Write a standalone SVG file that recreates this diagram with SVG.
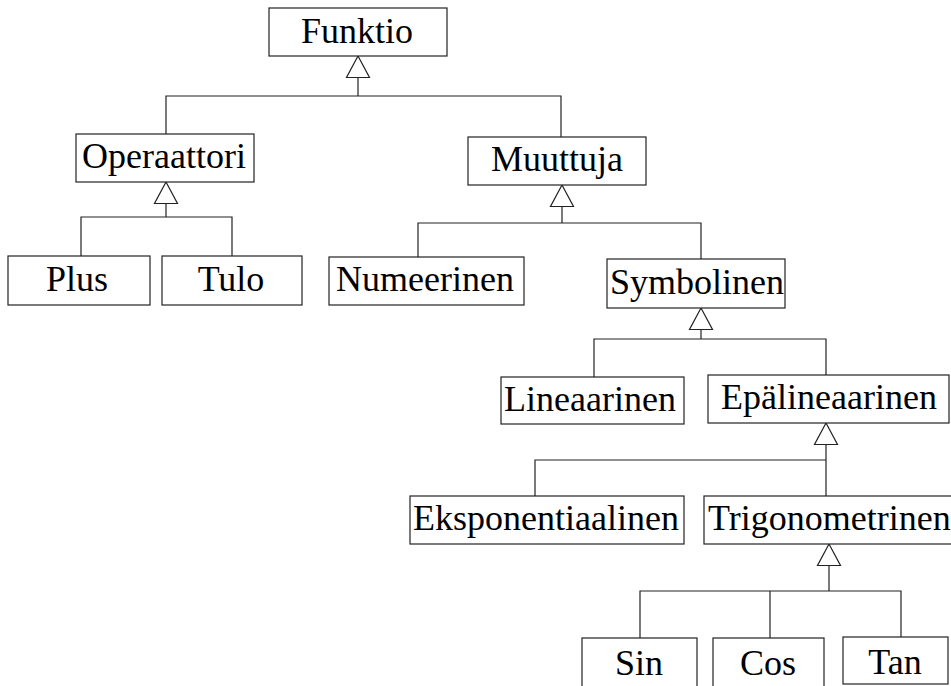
<svg xmlns="http://www.w3.org/2000/svg" xmlns:xlink="http://www.w3.org/1999/xlink" width="951" height="686" viewBox="0 0 951 686">
  <style>
    .box { fill: #ffffff; stroke: #222222; stroke-width: 1.2; }
    .lbl { font-family: "Liberation Serif", "Times New Roman", serif; font-size: 36px; fill: #000000; text-anchor: middle; }
    .wire { fill: none; stroke: #222222; stroke-width: 1.2; }
    .head { fill: #ffffff; stroke: #222222; stroke-width: 1.2; }
  </style>
  <defs>
    <!-- hollow generalisation triangle, apex at origin -->
    <path id="gen" class="head" d="M0,0 L11.5,21.5 L-11.5,21.5 Z"/>
  </defs>
  <rect width="951" height="686" fill="#ffffff"/>

  <g id="connectors">
    <!-- Funktio -->
    <path class="wire" d="M358,77 V96 M166,134 V96 H561 V137"/>
    <use xlink:href="#gen" x="358" y="56"/>
    <!-- Operaattori -->
    <path class="wire" d="M166,203 V217 M81,256 V217 H232 V256"/>
    <use xlink:href="#gen" x="166" y="182"/>
    <!-- Muuttuja -->
    <path class="wire" d="M562,206 V223 M418,257 V223 H701 V259"/>
    <use xlink:href="#gen" x="562" y="185"/>
    <!-- Symbolinen -->
    <path class="wire" d="M701,329 V339 M594,377 V339 H826 V375"/>
    <use xlink:href="#gen" x="701" y="308"/>
    <!-- Epälineaarinen -->
    <path class="wire" d="M826,444 V496 M535,496 V460 H826"/>
    <use xlink:href="#gen" x="826" y="423"/>
    <!-- Trigonometrinen -->
    <path class="wire" d="M829,565 V591 M640,638 V591 H901 V637 M770,591 V638"/>
    <use xlink:href="#gen" x="829" y="544"/>
  </g>

  <g id="funktio">
    <rect class="box" x="269" y="8" width="178" height="48"/>
    <text class="lbl" x="357" y="43">Funktio</text>
  </g>
  <g id="operaattori">
    <rect class="box" x="76" y="134" width="178" height="48"/>
    <text class="lbl" x="164" y="168">Operaattori</text>
  </g>
  <g id="muuttuja">
    <rect class="box" x="468" y="137" width="178" height="48"/>
    <text class="lbl" x="557" y="171">Muuttuja</text>
  </g>
  <g id="plus">
    <rect class="box" x="8" y="256" width="142" height="49"/>
    <text class="lbl" x="77" y="291">Plus</text>
  </g>
  <g id="tulo">
    <rect class="box" x="162" y="256" width="140" height="49"/>
    <text class="lbl" x="231" y="291">Tulo</text>
  </g>
  <g id="numeerinen">
    <rect class="box" x="329" y="257" width="195" height="48"/>
    <text class="lbl" x="425" y="291">Numeerinen</text>
  </g>
  <g id="symbolinen">
    <rect class="box" x="607" y="259" width="178" height="49"/>
    <text class="lbl" x="697" y="294">Symbolinen</text>
  </g>
  <g id="lineaarinen">
    <rect class="box" x="501" y="377" width="183" height="47"/>
    <text class="lbl" x="590" y="411">Lineaarinen</text>
  </g>
  <g id="epalineaarinen">
    <rect class="box" x="708" y="375" width="241" height="48"/>
    <text class="lbl" x="829" y="409">Epälineaarinen</text>
  </g>
  <g id="eksponentiaalinen">
    <rect class="box" x="410" y="496" width="274" height="48"/>
    <text class="lbl" x="546" y="530">Eksponentiaalinen</text>
  </g>
  <g id="trigonometrinen">
    <rect class="box" x="704" y="496" width="254" height="48"/>
    <text class="lbl" x="708" y="530" style="text-anchor: start">Trigonometrinen</text>
  </g>
  <g id="sin">
    <rect class="box" x="582" y="638" width="115" height="52"/>
    <text class="lbl" x="639" y="675">Sin</text>
  </g>
  <g id="cos">
    <rect class="box" x="713" y="638" width="111" height="52"/>
    <text class="lbl" x="768" y="675">Cos</text>
  </g>
  <g id="tan">
    <rect class="box" x="843" y="637" width="105" height="47"/>
    <text class="lbl" x="895" y="674">Tan</text>
  </g>
</svg>
